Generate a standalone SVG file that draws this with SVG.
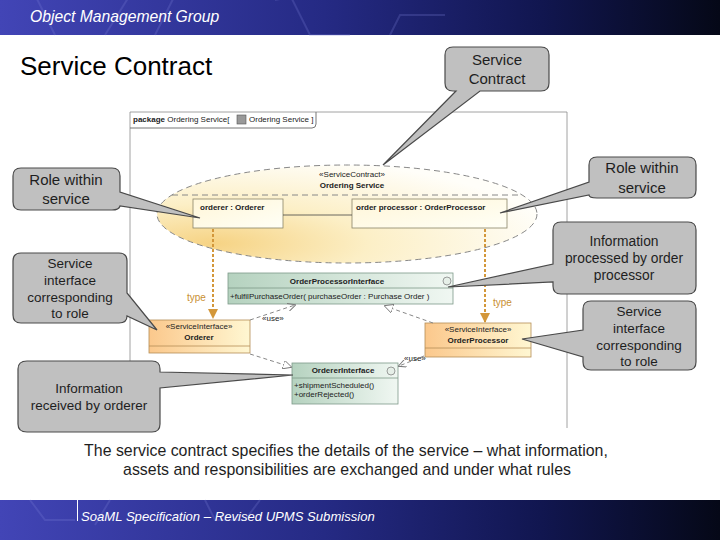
<svg xmlns="http://www.w3.org/2000/svg" width="720" height="540" viewBox="0 0 720 540">
<defs>
<linearGradient id="bar" x1="0" y1="0" x2="1" y2="0">
<stop offset="0" stop-color="#4245b6"/><stop offset="0.45" stop-color="#252a84"/><stop offset="0.75" stop-color="#111650"/><stop offset="1" stop-color="#050817"/>
</linearGradient>
<radialGradient id="ell" cx="0.15" cy="0.8" r="0.9">
<stop offset="0" stop-color="#f6d384"/><stop offset="0.45" stop-color="#fcefc6"/><stop offset="1" stop-color="#fffef9"/>
</radialGradient>
<linearGradient id="part" x1="0" y1="0" x2="1" y2="1">
<stop offset="0" stop-color="#fff6d8"/><stop offset="1" stop-color="#fffff6"/>
</linearGradient>
<linearGradient id="si" x1="0" y1="0" x2="1" y2="0">
<stop offset="0" stop-color="#fbc88c"/><stop offset="1" stop-color="#fff7d2"/>
</linearGradient>
<linearGradient id="itf" x1="0" y1="0" x2="1" y2="0">
<stop offset="0" stop-color="#b5d2bf"/><stop offset="1" stop-color="#f0f7f2"/>
</linearGradient>
<marker id="typeArr" viewBox="0 0 10 10" refX="9" refY="5" markerWidth="5" markerHeight="5" orient="auto">
<path d="M0,0 L10,5 L0,10 Z" fill="#d3973a"/>
</marker>
<marker id="openArr" viewBox="0 0 10 10" refX="9" refY="5" markerWidth="8" markerHeight="8" orient="auto" markerUnits="userSpaceOnUse">
<path d="M0,0 L10,5 L0,10" fill="none" stroke="#777" stroke-width="1.2"/>
</marker>
<marker id="triArr" viewBox="0 0 10 10" refX="9" refY="5" markerWidth="9" markerHeight="9" orient="auto" markerUnits="userSpaceOnUse">
<path d="M0,0 L10,5 L0,10 Z" fill="#fff" stroke="#777" stroke-width="1"/>
</marker>
</defs>
<style>
.callout{fill:#c0c0c0;stroke:#4a4a4a;stroke-width:1.2}
.ct{font-family:"Liberation Sans",Arial,sans-serif;fill:#1e1e1e;text-anchor:middle}
.uml{font-family:"Liberation Sans",Arial,sans-serif;font-size:8px;fill:#222}
.b{font-weight:bold}
.mid{text-anchor:middle}
.dash{fill:none;stroke:#888;stroke-width:1;stroke-dasharray:4,3}
.type{fill:none;stroke:#d3973a;stroke-width:2;stroke-dasharray:3,2}
.typelbl{font-family:"Liberation Sans",Arial,sans-serif;font-size:10px;fill:#c98f32}
.hex{fill:none;stroke:#7a80d8;stroke-opacity:0.25;stroke-width:2}
</style>

<!-- header -->
<g id="header">
<rect x="0" y="0" width="720" height="35" fill="url(#bar)"/>
<path class="hex" d="M35,-5 L55,35 M130,-5 L105,35 M155,35 L175,-5 M290,-5 L310,35 L350,35 M275,0 L300,-5 M390,35 L400,15 L445,15"/>
<text x="30" y="22" font-family="Liberation Sans,Arial,sans-serif" font-style="italic" font-size="15.7" fill="#ffffff">Object Management Group</text>
</g>
<text id="title" x="20" y="75" font-family="Liberation Sans,Arial,sans-serif" font-size="26" fill="#000">Service Contract</text>

<!-- package frame -->
<g id="package">
<path d="M130,112 H567 V428 M130,112 V428" fill="none" stroke="#8a8a8a" stroke-width="0.8"/>
<path d="M130,128 H312 Q316,128 316,124 V112" fill="none" stroke="#777" stroke-width="1"/>
<text class="uml" x="133" y="122"><tspan class="b">package</tspan> Ordering Service[ </text>
<rect x="237" y="115" width="9" height="9" fill="#999" stroke="#555" stroke-width="0.6"/>
<text class="uml" x="249" y="122">Ordering Service ]</text>
</g>

<!-- service contract ellipse -->
<g id="contract">
<ellipse cx="347" cy="214" rx="190" ry="49" fill="url(#ell)" stroke="#888" stroke-width="1" stroke-dasharray="6,4"/>
<line x1="172" y1="195" x2="522" y2="195" stroke="#888" stroke-width="1" stroke-dasharray="6,4"/>
<text class="uml mid" x="352" y="177">«ServiceContract»</text>
<text class="uml b mid" x="352" y="188">Ordering Service</text>
</g>

<g id="orderer-part">
<rect x="193" y="199" width="90" height="29" fill="url(#part)" stroke="#8a8468" stroke-width="0.8"/>
<text class="uml b" x="200" y="210">orderer : Orderer</text>
</g>
<g id="processor-part">
<rect x="352" y="199" width="155" height="29" fill="url(#part)" stroke="#8a8468" stroke-width="0.8"/>
<text class="uml b" x="356" y="210">order processor : OrderProcessor</text>
</g>

<g id="OrderProcessorInterface">
<rect x="228" y="273" width="225" height="31" fill="url(#itf)" stroke="#7d9a89" stroke-width="0.8"/>
<line x1="228" y1="288" x2="453" y2="288" stroke="#7d9a89" stroke-width="0.8"/>
<text class="uml b mid" x="337" y="284">OrderProcessorInterface</text>
<circle cx="447" cy="281" r="4" fill="#e6efe8" stroke="#777" stroke-width="0.7"/>
<text class="uml" x="230" y="299">+fulfilPurchaseOrder( purchaseOrder : Purchase Order )</text>
</g>

<g id="OrdererInterface">
<rect x="292" y="363" width="106" height="41" fill="url(#itf)" stroke="#7d9a89" stroke-width="0.8"/>
<line x1="292" y1="378" x2="398" y2="378" stroke="#7d9a89" stroke-width="0.8"/>
<text class="uml b mid" x="343" y="373">OrdererInterface</text>
<circle cx="391" cy="371" r="4" fill="#e6efe8" stroke="#777" stroke-width="0.7"/>
<text class="uml" x="294" y="388">+shipmentScheduled()</text>
<text class="uml" x="294" y="397">+orderRejected()</text>
</g>

<g id="OrdererSI">
<rect x="149" y="320" width="101" height="33" fill="url(#si)" stroke="#b58d55" stroke-width="0.8"/>
<line x1="149" y1="346" x2="250" y2="346" stroke="#b58d55" stroke-width="0.8"/>
<text class="uml mid" x="199" y="329">«ServiceInterface»</text>
<text class="uml b mid" x="199" y="340">Orderer</text>
</g>

<g id="OrderProcessorSI">
<rect x="425" y="323" width="106" height="34" fill="url(#si)" stroke="#b58d55" stroke-width="0.8"/>
<line x1="425" y1="348" x2="531" y2="348" stroke="#b58d55" stroke-width="0.8"/>
<text class="uml mid" x="478" y="332">«ServiceInterface»</text>
<text class="uml b mid" x="478" y="343">OrderProcessor</text>
</g>

<!-- connectors -->
<g id="connectors">
<line x1="283" y1="215" x2="352" y2="215" stroke="#444" stroke-width="0.8"/>
<line class="type" x1="213" y1="229" x2="213" y2="318" marker-end="url(#typeArr)"/>
<text class="typelbl" x="187" y="301">type</text>
<line class="type" x1="485" y1="229" x2="485" y2="322" marker-end="url(#typeArr)"/>
<text class="typelbl" x="493" y="306">type</text>
<line class="dash" x1="250" y1="320" x2="295" y2="305" marker-end="url(#openArr)"/>
<text class="uml" x="262" y="321">«use»</text>
<line class="dash" x1="250" y1="354" x2="291" y2="367" marker-end="url(#triArr)"/>
<line class="dash" x1="433" y1="323" x2="385" y2="306" marker-end="url(#triArr)"/>
<line class="dash" x1="424" y1="356" x2="399" y2="366" marker-end="url(#openArr)"/>
<text class="uml" x="404" y="361">«use»</text>
</g>

<!-- callouts -->
<g id="callout-service-contract">
<path class="callout" d="M453,47 H541 Q549,47 549,55 V83 Q549,91 541,91 H480 L383,165 L456,91 H453 Q445,91 445,83 V55 Q445,47 453,47 Z"/>
<text class="ct" x="497" y="65" font-size="15">Service</text>
<text class="ct" x="497" y="84" font-size="15">Contract</text>
</g>
<g id="callout-role-left">
<path class="callout" d="M21,168 H112 Q120,168 120,176 V192 L200,218 L120,206 Q119,210 112,210 H21 Q13,210 13,202 V176 Q13,168 21,168 Z"/>
<text class="ct" x="66" y="185" font-size="15">Role within</text>
<text class="ct" x="66" y="204" font-size="15">service</text>
</g>
<g id="callout-si-left">
<path class="callout" d="M21,253 H119 Q127,253 127,261 V293 L157,330 L127,316 Q127,323 119,323 H21 Q13,323 13,315 V261 Q13,253 21,253 Z"/>
<text class="ct" x="70" y="268" font-size="13.5">Service</text>
<text class="ct" x="70" y="285" font-size="13.5">interface</text>
<text class="ct" x="70" y="302" font-size="13.5">corresponding</text>
<text class="ct" x="70" y="318" font-size="13.5">to  role</text>
</g>
<g id="callout-info-orderer">
<path class="callout" d="M27,361 H152 Q160,361 160,369 V372 L293,375 L160,388 V424 Q160,432 152,432 H27 Q18,432 18,424 V369 Q18,361 27,361 Z"/>
<text class="ct" x="89" y="393" font-size="13.5">Information</text>
<text class="ct" x="89" y="410" font-size="13.5">received by orderer</text>
</g>
<g id="callout-role-right">
<path class="callout" d="M597,157 H688 Q696,157 696,165 V190 Q696,198 688,198 H597 Q589,198 589,195 L500,213 L589,182 V165 Q589,157 597,157 Z"/>
<text class="ct" x="642" y="173" font-size="15">Role within</text>
<text class="ct" x="642" y="193" font-size="15">service</text>
</g>
<g id="callout-info-processor">
<path class="callout" d="M561,222 H688 Q696,222 696,230 V286 Q696,294 688,294 H561 Q553,294 553,286 V282 L448,287 L553,264 V230 Q553,222 561,222 Z"/>
<text class="ct" x="624" y="246" font-size="13.8">Information</text>
<text class="ct" x="624" y="263" font-size="13.8">processed by order</text>
<text class="ct" x="624" y="280" font-size="13.8">processor</text>
</g>
<g id="callout-si-right">
<path class="callout" d="M591,301 H688 Q696,301 696,309 V362 Q696,370 688,370 H591 Q583,370 583,362 V357 L522,339 L583,330 V309 Q583,301 591,301 Z"/>
<text class="ct" x="639" y="316" font-size="13.5">Service</text>
<text class="ct" x="639" y="333" font-size="13.5">interface</text>
<text class="ct" x="639" y="350" font-size="13.5">corresponding</text>
<text class="ct" x="639" y="366" font-size="13.5">to  role</text>
</g>

<g id="caption">
<text class="ct" x="346" y="456" font-size="15.9">The service contract specifies the details of the service – what information,</text>
<text class="ct" x="347" y="475" font-size="15.9">assets and responsibilities are exchanged and under what rules</text>
</g>

<!-- footer -->
<g id="footer">
<rect x="0" y="500" width="720" height="40" fill="url(#bar)"/>
<path class="hex" d="M30,500 L45,520 L75,520 M110,500 L95,525 M205,500 L215,520 L245,520 L260,500"/>
<line x1="77.5" y1="500" x2="77.5" y2="521" stroke="#ffffff" stroke-width="1"/>
<text x="81" y="521" font-family="Liberation Sans,Arial,sans-serif" font-style="italic" font-size="13.1" fill="#ffffff">SoaML Specification – Revised UPMS Submission</text>
</g>
</svg>
